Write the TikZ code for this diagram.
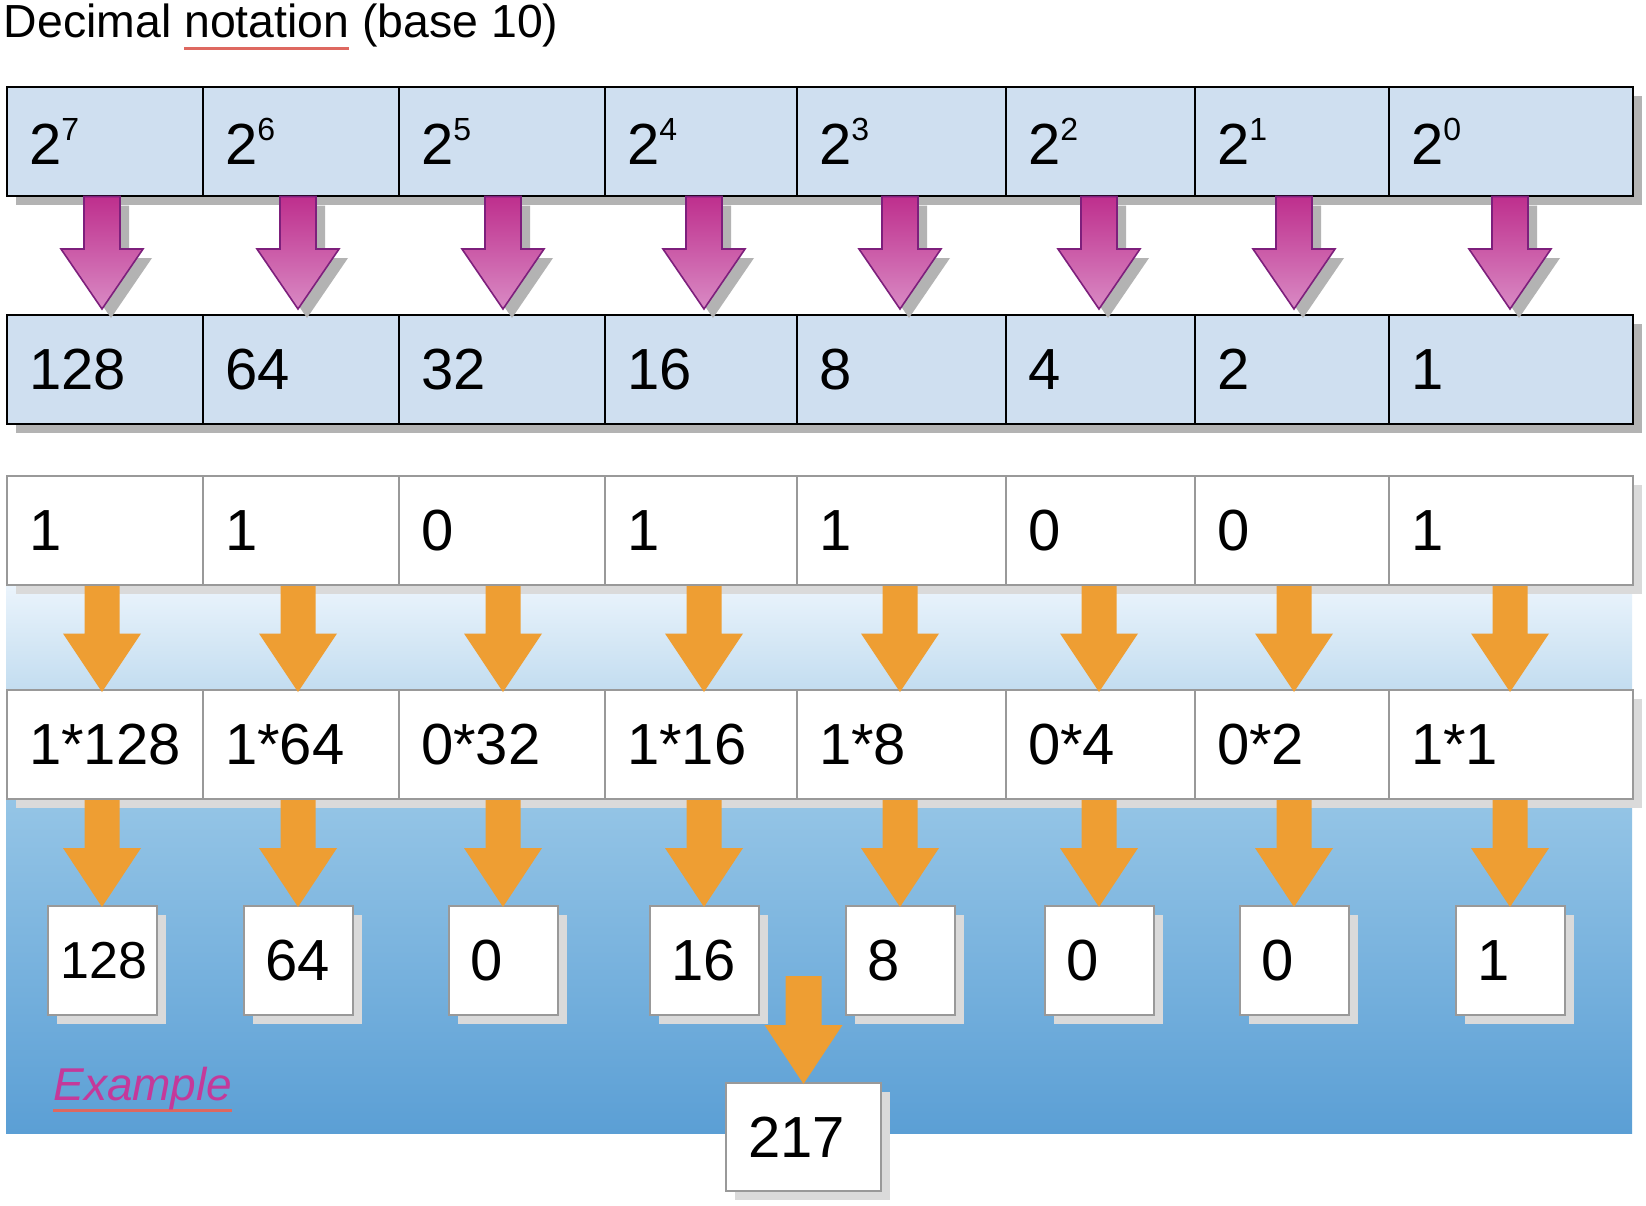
\documentclass[tikz,border=0pt]{standalone}
\usepackage{fontspec}
\setmainfont{Liberation Sans}
\usetikzlibrary{calc,shadows}
\definecolor{cellblue}{HTML}{CFDFF0}
\definecolor{pinktop}{HTML}{BE2F8D}
\definecolor{pinkbot}{HTML}{D98AC4}
\definecolor{pinkedge}{HTML}{7D1F7C}
\definecolor{orng}{HTML}{EE9E33}
\definecolor{cellgray}{HTML}{999999}
\definecolor{shadowdark}{HTML}{B3B3B3}
\definecolor{shadowlight}{HTML}{DADADA}
\definecolor{bgA}{HTML}{EBF4FC}
\definecolor{bgB}{HTML}{C3DDF0}
\definecolor{bgC}{HTML}{95C5E6}
\definecolor{bgD}{HTML}{5B9FD5}
\definecolor{exmag}{HTML}{C4399A}
\definecolor{ulred}{HTML}{DE6860}
\newcommand\fsz[1]{\fontsize{#1pt}{#1pt}\selectfont}
\newcommand\redul[2][-6.25pt]{\setbox0=\hbox{#2}\rlap{\textcolor{ulred}{\rule[#1]{\wd0}{1.5pt}}}\box0\relax}
\newcommand\pw[1]{2\raisebox{12pt}{\fsz{16}#1}}
\newcommand\blockarrow[6]{%
  \path[#1] let \p1=(#2), \p2=(#3) in
    (\x2-#4,\y1) -- (\x2+#4,\y1) -- (\x2+#4,\y2+#6) -- (\x2+#5,\y2+#6)
    -- (\x2,\y2) -- (\x2-#5,\y2+#6) -- (\x2-#4,\y2+#6) -- cycle;}
\begin{document}
\begin{tikzpicture}[x=0.5pt,y=-0.5pt,
  cellA/.style={draw=black, line width=1pt, fill=cellblue,
    drop shadow={shadow xshift=4.5pt, shadow yshift=-4.5pt, fill=shadowdark, opacity=1},
    inner xsep=11pt, inner ysep=0pt, minimum height=54.25pt, align=left,
    font=\fsz{29}, anchor=north west},
  cellB/.style={draw=cellgray, line width=1pt, fill=white,
    drop shadow={shadow xshift=4.5pt, shadow yshift=-4.5pt, fill=shadowlight, opacity=1},
    inner xsep=11pt, inner ysep=0pt, minimum height=54.5pt, align=left,
    font=\fsz{29}, anchor=north west},
  smallbox/.style={draw=cellgray, line width=1pt, fill=white,
    drop shadow={shadow xshift=4.5pt, shadow yshift=-4.5pt, fill=shadowlight, opacity=1},
    inner xsep=11pt, inner ysep=0pt, text width=32.5pt, minimum height=54.5pt,
    align=left, font=\fsz{29}, anchor=north},
  smallboxB/.style={smallbox, inner xsep=6.5pt, text width=41.5pt, font=\fsz{26}},
  pinkarrow/.style={draw=pinkedge, line width=0.8pt, top color=pinktop, bottom color=pinkbot,
    drop shadow={shadow xshift=4.5pt, shadow yshift=-4.5pt, fill=shadowdark, opacity=1}},
  orangearrow/.style={fill=orng}]
\fill[white] (0,0) rectangle (1646,1206);
\useasboundingbox (0,0) rectangle (1646,1206);
% backgrounds
\shade[top color=bgA, bottom color=bgB] (6,584) rectangle (1632,689);
\shade[top color=bgC, bottom color=bgD] (6,798) rectangle (1632,1133);
% title
\node[anchor=base west, font=\fsz{23.2}, inner sep=0] (title) at (3.5,37)
  {Decimal \redul{notation} (base 10)};
% rows
\foreach \ii/\xa/\xb/\ex/\val/\bit in {
  1/6/202/7/128/1, 2/202/398/6/64/1, 3/398/604/5/32/0, 4/604/796/4/16/1,
  5/796/1005/3/8/1, 6/1005/1194/2/4/0, 7/1194/1388/1/2/0, 8/1388/1632/0/1/1}
{
  \pgfmathsetmacro\tw{(\xb-\xa)/2-22}
  \node[cellA, text width=\tw pt] (p\ii) at (\xa,86) {\pw{\ex}};
  \node[cellA, text width=\tw pt] (v\ii) at (\xa,314) {\val};
  \node[cellB, text width=\tw pt] (b\ii) at (\xa,475) {\bit};
  \node[cellB, text width=\tw pt] (m\ii) at (\xa,689) {\bit*\val};
}
% result boxes
\node[smallboxB] (r1) at (102,905) {128};
\foreach \ii/\ax/\res in {2/298/64, 3/503/0, 4/704/16, 5/900/8, 6/1099/0, 7/1294/0, 8/1510/1}
  \node[smallbox] (r\ii) at (\ax,905) {\res};
\node[cellB, text width=55.5pt, minimum height=54pt] (sum) at (725,1082) {217};
\coordinate (sumin) at ($(sum.north)+(0,-106)$);
% example label
\node[anchor=base west, font=\fsz{23}\itshape, text=exmag, inner sep=0] (example) at (53,1100)
  {\redul[-5.75pt]{Example}};
% arrows
\foreach \ii in {1,...,8}
{
  \blockarrow{pinkarrow}{p\ii.south -| r\ii.north}{$(v\ii.north -| r\ii.north)+(0,-5)$}{9pt}{20.5pt}{30pt}
  \blockarrow{orangearrow}{b\ii.south -| r\ii.north}{$(m\ii.north -| r\ii.north)+(0,3)$}{8.75pt}{19.5pt}{29.25pt}
  \blockarrow{orangearrow}{m\ii.south -| r\ii.north}{$(r\ii.north)+(0,2)$}{8.75pt}{19.5pt}{29.5pt}
}
\blockarrow{orangearrow}{sumin}{$(sum.north)+(0,2)$}{9pt}{19.5pt}{29.5pt}
\end{tikzpicture}
\end{document}
